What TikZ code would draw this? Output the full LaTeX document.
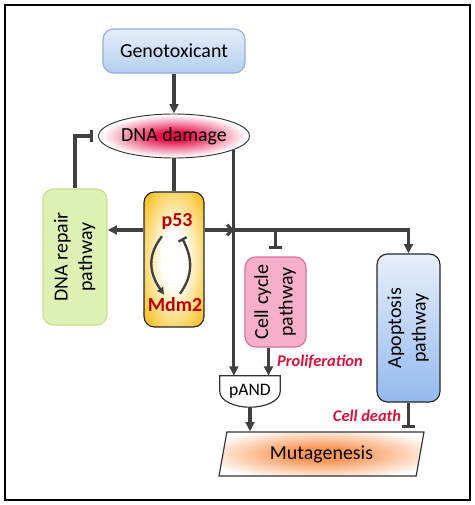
\documentclass[tikz,border=0pt]{standalone}
\usepackage{fontspec}
\setmainfont{Carlito}
\usetikzlibrary{arrows.meta,calc,shapes.geometric}

\definecolor{wire}{HTML}{404040}
\definecolor{damred}{HTML}{E8104A}
\definecolor{p53orange}{HTML}{F6B800}
\definecolor{mutorange}{HTML}{F8995A}
\definecolor{labelred}{HTML}{D8103C}
\definecolor{p53red}{HTML}{C00000}
\definecolor{genotop}{HTML}{E6EFFA}
\definecolor{genobottom}{HTML}{B4CEEE}
\definecolor{genoline}{HTML}{8DB0DD}
\definecolor{apoptop}{HTML}{E6EFFB}
\definecolor{apopbottom}{HTML}{94B9EE}
\definecolor{repairfill}{HTML}{DDF1B4}
\definecolor{repairline}{HTML}{C4E190}
\definecolor{cyclefill}{HTML}{F5AFC8}
\definecolor{cycleline}{HTML}{D9709A}

\pgfdeclareradialshading{damageglow}{\pgfpointorigin}{color(0bp)=(damred); color(5bp)=(damred); color(24bp)=(white); color(50bp)=(white)}
\pgfdeclareradialshading{p53glow}{\pgfpointorigin}{color(0bp)=(white); color(10bp)=(white); color(36bp)=(p53orange); color(50bp)=(p53orange)}
\pgfdeclareradialshading{mutaglow}{\pgfpointorigin}{color(0bp)=(mutorange); color(8bp)=(mutorange); color(30bp)=(white); color(50bp)=(white)}

\begin{document}
\begin{tikzpicture}[x=0.03cm, y=-0.03cm,
    every node/.style={font=\fontsize{17}{21}\selectfont, inner sep=0pt},
    wire/.style={draw=wire, line width=2.6pt},
    arrow/.style={wire, -{Triangle[length=8pt,width=7.5pt]}},
    inhibit/.style={wire, -{Bar[width=11pt]}},
    loopline/.style={draw=wire, line width=2pt},
    redlabel/.style={text=labelred, font=\fontsize{14}{16}\selectfont\bfseries\itshape},
    pathbox/.style={draw, rounded corners=9pt, line width=1pt}]
    \useasboundingbox (0,0) rectangle (474,505);
    \draw[line width=1.6pt] (5,5) rectangle (470,500);

    \node[pathbox, draw=genoline, top color=genotop, bottom color=genobottom, minimum width=4.26cm, minimum height=1.32cm] (geno) at (174,51) {Genotoxicant};
    \node[ellipse, draw=black!80, line width=0.8pt, shade, shading=damageglow, minimum width=4.53cm, minimum height=1.32cm] (dna) at (174,136) {DNA damage};

    \node[pathbox, draw=repairline, top color=repairfill, middle color=repairfill!30!white, bottom color=repairfill, minimum width=1.92cm, minimum height=4.08cm] (repair) at (75,257) {\rotatebox{90}{\begin{tabular}{@{}c@{}}DNA repair\\pathway\end{tabular}}};
    \node[pathbox, draw=black!85, shade, shading=p53glow, minimum width=1.8cm, minimum height=4.05cm] (p53box) at (174,259.5) {};
    \node[text=p53red, font=\fontsize{17}{21}\selectfont\bfseries] (p53) at (177,222) {p53};
    \node[text=p53red, font=\fontsize{17}{21}\selectfont\bfseries] (mdm2) at (175,305) {Mdm2};

    \node[pathbox, draw=cycleline, top color=cyclefill, middle color=cyclefill!45!white, bottom color=cyclefill, minimum width=1.83cm, minimum height=2.7cm] (cycle) at (275.5,302) {\rotatebox{90}{\begin{tabular}{@{}c@{}}Cell cycle\\pathway\end{tabular}}};
    \node[pathbox, draw=black!85, top color=apoptop, bottom color=apopbottom, minimum width=1.89cm, minimum height=4.44cm] (apop) at (408.5,328) {\rotatebox{90}{\begin{tabular}{@{}c@{}}Apoptosis\\pathway\end{tabular}}};

    \node[minimum width=1.8cm, minimum height=0.93cm, font=\fontsize{15}{17}\selectfont] (pand) at (250,391.5) {pAND};
    \draw[line width=1pt, draw=black!80] (pand.north west) -- (pand.north east) -- (pand.east)
        .. controls ($(pand.east)!0.6!(pand.south east)$) and ($(pand.south)!0.5!(pand.south east)$) .. (pand.south)
        .. controls ($(pand.south)!0.5!(pand.south west)$) and ($(pand.west)!0.6!(pand.south west)$) .. (pand.west) -- cycle;

    \node[trapezium, trapezium left angle=76, trapezium right angle=104, trapezium stretches=true, draw=black!80, line width=1pt, shade, shading=mutaglow, minimum width=6.21cm, minimum height=1.32cm] (muta) at (321.5,454) {Mutagenesis};

    \node[redlabel] (prolif) at (320,362) {Proliferation};
    \node[redlabel] (death) at (367,416) {Cell death};

    \coordinate (rail) at (408.5,230);
    \coordinate (cycleout) at ($(cycle.south)+(-7,0)$);

    \draw[arrow] (geno.south) -- (dna.north);
    \draw[wire] (dna.south) -- (p53box.north);
    \draw[inhibit, shorten >=4pt] (repair.north) |- (dna.west);
    \draw[arrow] (p53box.west |- rail) -- (repair.east |- rail);
    \draw[wire, -{Straight Barb[length=4pt,width=9pt]}] (p53box.east |- rail) -- (dna.-13 |- rail);
    \draw[arrow] (dna.-13 |- rail) -| (apop.north);
    \draw[arrow] (dna.-13) -- (dna.-13 |- pand.north);
    \draw[inhibit, shorten >=6pt] (cycle.north |- rail) -- (cycle.north);
    \draw[arrow] (cycleout) -- (cycleout |- pand.north);
    \draw[arrow] (pand.south) -- (pand.south |- muta.north);
    \draw[inhibit, shorten >=3pt] (apop.south) -- (apop.south |- muta.north);

    \draw[loopline, -{Triangle[length=6pt,width=6pt]}] ($(p53.south)+(-15,6)$) .. controls ($(p53.south)+(-30,25)$) and ($(mdm2.north)+(-26,-25)$) .. ($(mdm2.north)+(-11,-3)$);
    \draw[loopline, -{Bar[width=8pt]}] ($(mdm2.north)+(5,-4)$) .. controls ($(mdm2.north)+(18,-22)$) and ($(p53.south)+(16,28)$) .. ($(p53.south)+(5,8)$);
\end{tikzpicture}
\end{document}
